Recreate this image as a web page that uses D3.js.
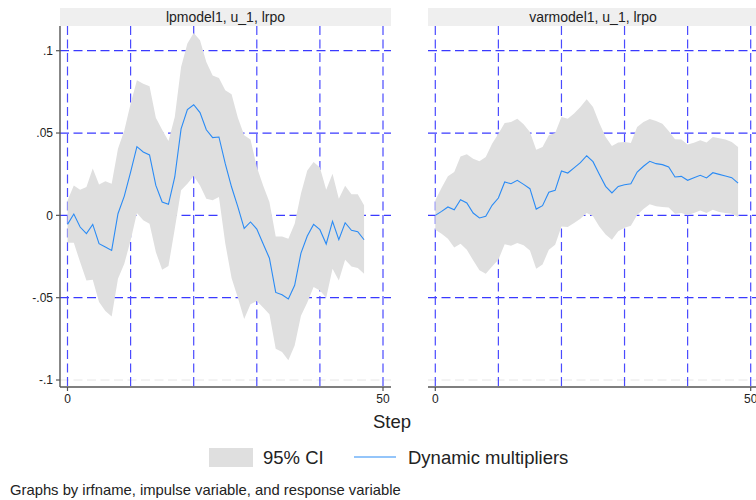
<!DOCTYPE html>
<html>
<head>
<meta charset="utf-8">
<script src="https://cdn.jsdelivr.net/npm/d3@7"></script>
<style>
  body { margin: 0; background: #fff; }
  text { font-family: "Liberation Sans", Arial, sans-serif; fill: #222; }
</style>
</head>
<body>
<div id="chart"></div>
<script>
// panels and axis labels
var panelTitles = ["lpmodel1, u_1, lrpo", "varmodel1, u_1, lrpo"];
var yTicks = [-0.1, -0.05, 0, 0.05, 0.1];
var yTickLabels = ["-.1", "-.05", "0", ".05", ".1"];
var xTicks = [0, 50];
var xGrid = [0, 10, 20, 30, 40, 50];
var yGrid = [-0.05, 0, 0.05, 0.1];

// lpmodel1 : steps 0..47
var lpIrf = [-0.0055, 0.0008, -0.0071, -0.0111, -0.0055, -0.0172, -0.0192, -0.0213, 0.0010, 0.0117,
  0.0263, 0.0417, 0.0385, 0.0367, 0.0182, 0.0081, 0.0067, 0.0233, 0.0525, 0.0642,
  0.0672, 0.0624, 0.0520, 0.0472, 0.0476, 0.0314, 0.0172, 0.0051, -0.0079, -0.0040,
  -0.0083, -0.0172, -0.0260, -0.0468, -0.0482, -0.0508, -0.0425, -0.0229, -0.0126, -0.0055,
  -0.0087, -0.0174, -0.0036, -0.0148, -0.0045, -0.0091, -0.0099, -0.0148];
var lpHi = [0.0090, 0.0182, 0.0156, 0.0172, 0.0284, 0.0188, 0.0207, 0.0192, 0.0405, 0.0516,
  0.0678, 0.0820, 0.0800, 0.0784, 0.0593, 0.0520, 0.0452, 0.0597, 0.0901, 0.1043,
  0.1108, 0.1063, 0.0932, 0.0850, 0.0834, 0.0760, 0.0735, 0.0593, 0.0486, 0.0460,
  0.0294, 0.0182, 0.0081, -0.0128, -0.0128, -0.0142, -0.0051, 0.0132, 0.0273, 0.0324,
  0.0290, 0.0156, 0.0253, 0.0101, 0.0180, 0.0128, 0.0128, 0.0061];
var lpLo = [-0.0166, -0.0166, -0.0284, -0.0395, -0.0391, -0.0527, -0.0581, -0.0614, -0.0385, -0.0294,
  -0.0152, 0.0014, -0.0030, -0.0051, -0.0223, -0.0330, -0.0308, -0.0081, 0.0152, 0.0192,
  0.0239, 0.0182, 0.0101, 0.0091, 0.0111, -0.0170, -0.0380, -0.0500, -0.0630, -0.0540,
  -0.0520, -0.0560, -0.0600, -0.0810, -0.0830, -0.0880, -0.0790, -0.0610, -0.0530, -0.0435,
  -0.0456, -0.0500, -0.0324, -0.0395, -0.0270, -0.0310, -0.0320, -0.0355];

// varmodel1 : steps 0..48
var varIrf = [0.0000, 0.0024, 0.0051, 0.0034, 0.0095, 0.0075, 0.0014, -0.0016, -0.0006, 0.0061,
  0.0105, 0.0203, 0.0192, 0.0213, 0.0188, 0.0162, 0.0038, 0.0059, 0.0140, 0.0152,
  0.0269, 0.0257, 0.0288, 0.0320, 0.0362, 0.0326, 0.0249, 0.0176, 0.0136, 0.0176,
  0.0186, 0.0192, 0.0263, 0.0298, 0.0328, 0.0314, 0.0308, 0.0294, 0.0233, 0.0237,
  0.0213, 0.0229, 0.0243, 0.0227, 0.0259, 0.0249, 0.0239, 0.0229, 0.0196];
var varHi = [0.0091, 0.0168, 0.0237, 0.0263, 0.0358, 0.0371, 0.0344, 0.0328, 0.0354, 0.0435,
  0.0496, 0.0561, 0.0567, 0.0587, 0.0553, 0.0506, 0.0399, 0.0415, 0.0486, 0.0500,
  0.0597, 0.0587, 0.0618, 0.0658, 0.0705, 0.0658, 0.0561, 0.0476, 0.0421, 0.0443,
  0.0446, 0.0440, 0.0537, 0.0567, 0.0585, 0.0573, 0.0557, 0.0512, 0.0462, 0.0460,
  0.0431, 0.0441, 0.0456, 0.0443, 0.0476, 0.0468, 0.0460, 0.0446, 0.0415];
var varLo = [-0.0087, -0.0111, -0.0142, -0.0196, -0.0172, -0.0209, -0.0273, -0.0334, -0.0354, -0.0310,
  -0.0269, -0.0176, -0.0184, -0.0168, -0.0182, -0.0213, -0.0324, -0.0298, -0.0209, -0.0178,
  -0.0067, -0.0071, -0.0047, -0.0020, 0.0014, -0.0006, -0.0067, -0.0117, -0.0148, -0.0097,
  -0.0075, -0.0063, 0.0002, 0.0038, 0.0067, 0.0055, 0.0051, 0.0047, 0.0010, 0.0014,
  0.0002, 0.0014, 0.0030, 0.0014, 0.0034, 0.0020, 0.0014, 0.0010, -0.0010];

var W = 756, H = 500;
var svg = d3.select("#chart").append("svg")
  .attr("width", W).attr("height", H);

var y = d3.scaleLinear().domain([-0.1, 0.1]).range([380, 50.7]);
var plotTop = 26, plotBottom = 387;

var panels = [
  { title: panelTitles[0], irf: lpIrf, lo: lpLo, hi: lpHi, left: 60, right: 391, x0: 67.5, x1: 383, yaxis: true },
  { title: panelTitles[1], irf: varIrf, lo: varLo, hi: varHi, left: 428, right: 758, x0: 435.3, x1: 750.7, yaxis: false }
];

panels.forEach(function(p) {
  var x = d3.scaleLinear().domain([0, 50]).range([p.x0, p.x1]);
  var g = svg.append("g");

  // header strip
  g.append("rect")
    .attr("x", p.left).attr("y", 8)
    .attr("width", p.right - p.left).attr("height", 18)
    .attr("fill", "#efefef");
  g.append("text")
    .attr("x", (p.left + p.right) / 2).attr("y", 21.5)
    .attr("text-anchor", "middle")
    .style("font-size", "14px")
    .text(p.title);

  // light gray default grid at -.1
  g.append("line")
    .attr("x1", p.left).attr("x2", p.right)
    .attr("y1", y(-0.1)).attr("y2", y(-0.1))
    .attr("stroke", "#e6e6e6").attr("stroke-width", 1)
    .attr("stroke-dasharray", "9,4.5");

  // blue dashed reference lines
  g.selectAll(".hl").data(yGrid).enter().append("line")
    .attr("x1", p.left).attr("x2", p.right)
    .attr("y1", function(d) { return y(d); })
    .attr("y2", function(d) { return y(d); })
    .attr("stroke", "#3a3aff").attr("stroke-width", 1.2)
    .attr("stroke-dasharray", "9,4.5");
  g.selectAll(".vl").data(xGrid).enter().append("line")
    .attr("x1", function(d) { return x(d); })
    .attr("x2", function(d) { return x(d); })
    .attr("y1", plotTop).attr("y2", plotBottom)
    .attr("stroke", "#4a4aff").attr("stroke-width", 1.2)
    .attr("stroke-dasharray", "9,4.5");

  // confidence band
  var area = d3.area()
    .x(function(d, i) { return x(i); })
    .y0(function(d, i) { return y(p.lo[i]); })
    .y1(function(d, i) { return y(p.hi[i]); });
  g.append("path")
    .datum(p.irf)
    .attr("d", area)
    .attr("fill", "#dfdfdf");

  // irf line
  var line = d3.line()
    .x(function(d, i) { return x(i); })
    .y(function(d) { return y(d); });
  g.append("path")
    .datum(p.irf)
    .attr("d", line)
    .attr("fill", "none")
    .attr("stroke", "#2a8bf5")
    .attr("stroke-width", 1.1);

  // x axis
  g.append("line")
    .attr("x1", p.left).attr("x2", p.right)
    .attr("y1", plotBottom).attr("y2", plotBottom)
    .attr("stroke", "#555").attr("stroke-width", 1.4);
  g.selectAll(".xt").data(xTicks).enter().append("line")
    .attr("x1", function(d) { return x(d); })
    .attr("x2", function(d) { return x(d); })
    .attr("y1", plotBottom).attr("y2", plotBottom + 4)
    .attr("stroke", "#555").attr("stroke-width", 1.2);
  g.selectAll(".xl").data(xTicks).enter().append("text")
    .attr("x", function(d) { return x(d); })
    .attr("y", 403)
    .attr("text-anchor", "middle")
    .style("font-size", "12px")
    .text(function(d) { return d; });

  // y axis (left column only)
  if (p.yaxis) {
    g.append("line")
      .attr("x1", p.left).attr("x2", p.left)
      .attr("y1", plotTop).attr("y2", plotBottom)
      .attr("stroke", "#555").attr("stroke-width", 1.4);
    g.selectAll(".yt").data(yTicks).enter().append("line")
      .attr("x1", p.left - 4).attr("x2", p.left)
      .attr("y1", function(d) { return y(d); })
      .attr("y2", function(d) { return y(d); })
      .attr("stroke", "#555").attr("stroke-width", 1.2);
    g.selectAll(".yl").data(yTicks).enter().append("text")
      .attr("x", 53)
      .attr("y", function(d) { return y(d) + 4.3; })
      .attr("text-anchor", "end")
      .style("font-size", "12px")
      .text(function(d, i) { return yTickLabels[i]; });
  }
});

// x title
svg.append("text")
  .attr("x", 392).attr("y", 428)
  .attr("text-anchor", "middle")
  .style("font-size", "18.5px")
  .text("Step");

// legend
svg.append("rect")
  .attr("x", 209).attr("y", 448)
  .attr("width", 44).attr("height", 19)
  .attr("fill", "#dfdfdf");
svg.append("text")
  .attr("x", 263).attr("y", 464)
  .style("font-size", "18.5px")
  .text("95% CI");
svg.append("line")
  .attr("x1", 354).attr("x2", 396)
  .attr("y1", 457).attr("y2", 457)
  .attr("stroke", "#2a8bf5").attr("stroke-width", 1.2);
svg.append("text")
  .attr("x", 408).attr("y", 464)
  .style("font-size", "18.5px")
  .text("Dynamic multipliers");

// note
svg.append("text")
  .attr("x", 10).attr("y", 495)
  .style("font-size", "14.8px")
  .text("Graphs by irfname, impulse variable, and response variable");
</script>
</body>
</html>
